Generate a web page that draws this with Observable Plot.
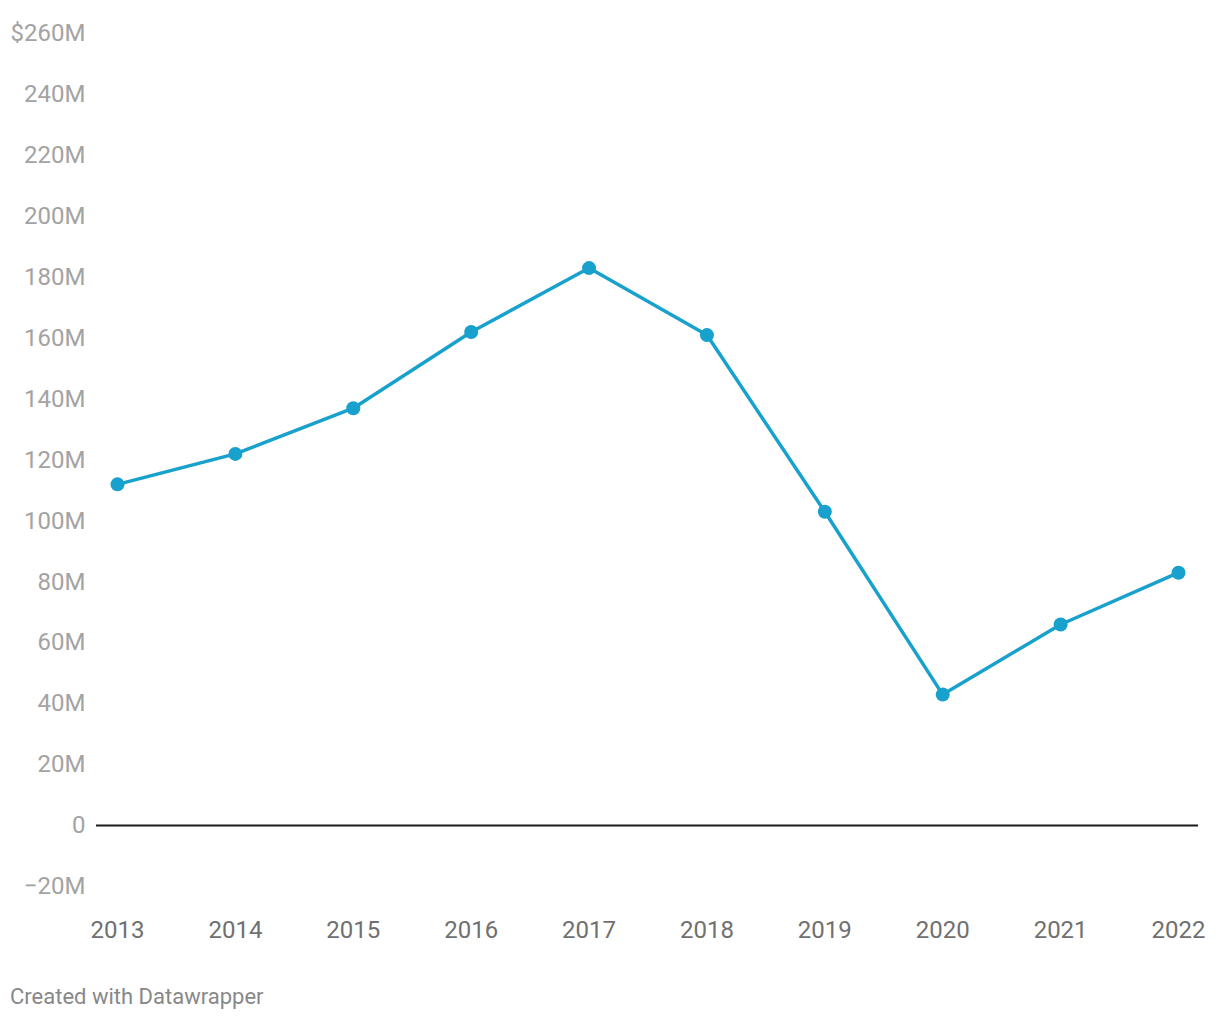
<!DOCTYPE html>
<html>
<head>
<meta charset="utf-8">
<script src="https://cdn.jsdelivr.net/npm/d3@7"></script>
<script src="https://cdn.jsdelivr.net/npm/@observablehq/plot@0.6"></script>
<style>
  body { margin: 0; background: #fff; font-family: Roboto, sans-serif; }
  #caption { position: absolute; left: 10px; top: 984px; font-size: 22px; line-height: 26px; color: #888; font-family: Roboto, sans-serif; }
</style>
</head>
<body>
<div id="chart"></div>
<div id="caption">Created with Datawrapper</div>
<script>
const years = [2013, 2014, 2015, 2016, 2017, 2018, 2019, 2020, 2021, 2022];
const values = [112, 122, 137, 162, 183, 161, 103, 43, 66, 83]; // millions of dollars
const yTicks = [-20, 0, 20, 40, 60, 80, 100, 120, 140, 160, 180, 200, 220, 240, 260];

const data = years.map((y, i) => ({year: y, value: values[i]}));
const fmtY = d => d === 0 ? "0" : (d === 260 ? "$" : "") + (d < 0 ? "\u2212" + Math.abs(d) : d) + "M";

const chart = Plot.plot({
  width: 1220,
  height: 960,
  marginTop: 33,
  marginBottom: 74,
  marginLeft: 96,
  marginRight: 22,
  style: {fontFamily: "Roboto, sans-serif", fontSize: "24px", background: "#fff"},
  x: {domain: [2013, 2022], insetLeft: 21, insetRight: 20, label: null},
  y: {domain: [-20, 260], label: null},
  marks: [
    Plot.axisY({ticks: yTicks, tickFormat: fmtY, tickSize: 0, tickPadding: 11, color: "#a3a3a3", fontSize: 24, label: null}),
    Plot.axisX({ticks: years, tickFormat: d => String(d), tickSize: 0, tickPadding: 34, color: "#707070", fontSize: 24, label: null}),
    Plot.ruleY([0], {stroke: "#1a1a1a", strokeWidth: 2}),
    Plot.line(data, {x: "year", y: "value", stroke: "#18a1cd", strokeWidth: 3.5}),
    Plot.dot(data, {x: "year", y: "value", fill: "#18a1cd", r: 7})
  ]
});
document.getElementById("chart").appendChild(chart);
</script>
</body>
</html>
